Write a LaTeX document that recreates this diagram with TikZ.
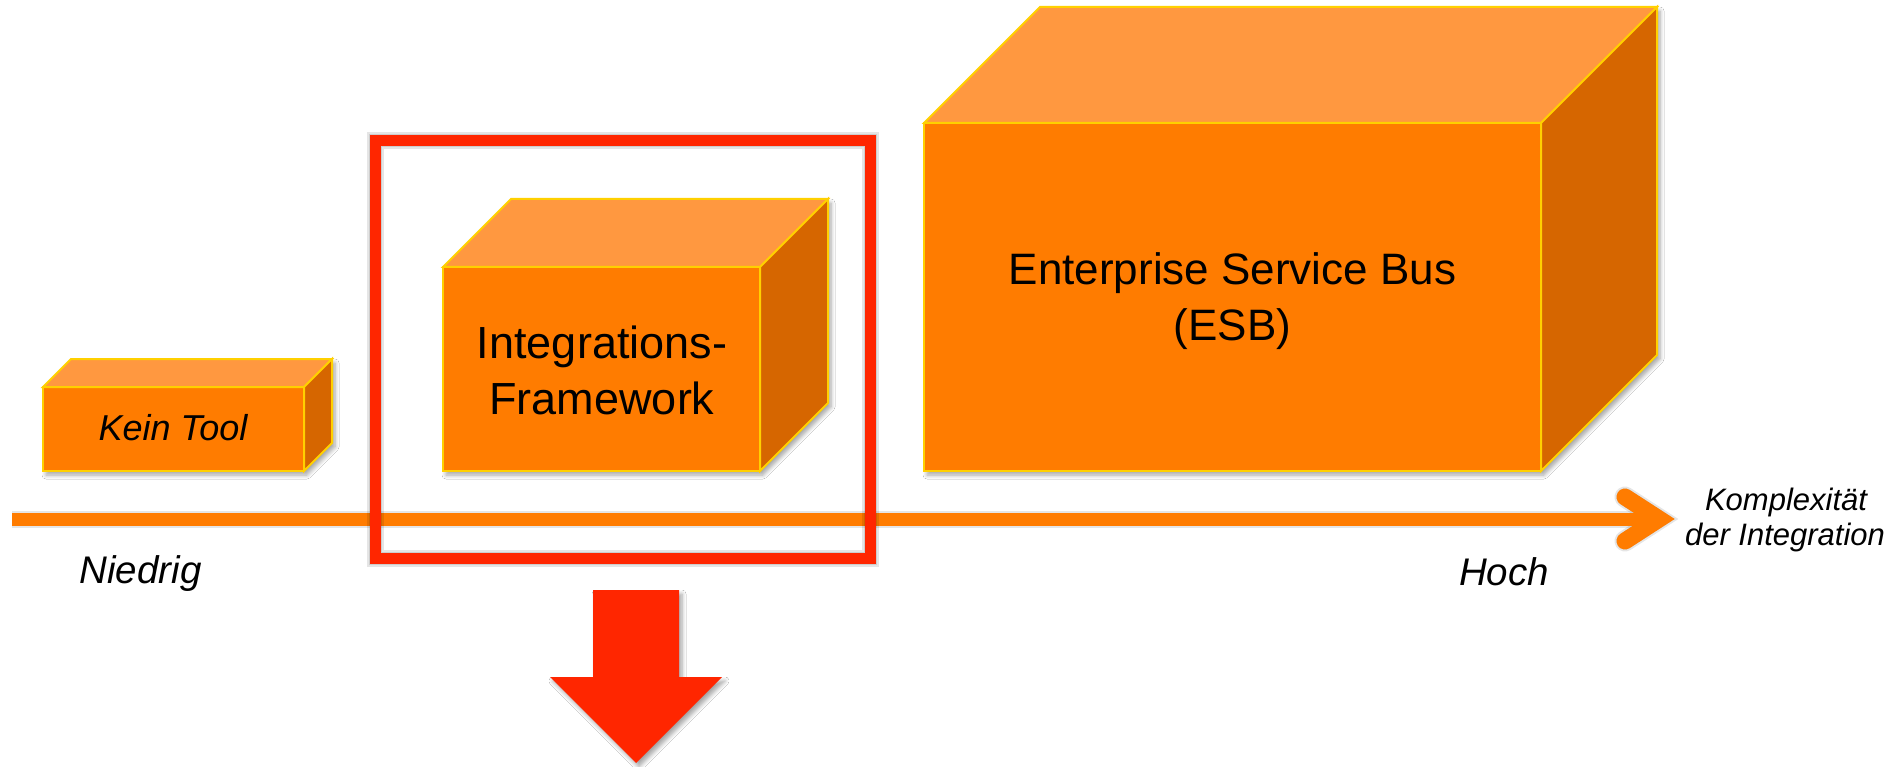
\documentclass[tikz,border=0pt]{standalone}
\usepackage{fontspec}
\setmainfont{Liberation Sans}
\usetikzlibrary{shadows.blur}
\definecolor{ofront}{RGB}{255,124,0}
\definecolor{otop}{RGB}{255,152,64}
\definecolor{oside}{RGB}{214,102,0}
\definecolor{gold}{RGB}{255,208,0}
\definecolor{hred}{RGB}{255,38,0}
\tikzset{
  face/.style={draw=gold, line width=2pt, line join=miter},
  frontface/.style={face, fill=ofront},
  topface/.style={face, fill=otop},
  sideface/.style={face, fill=oside},
  softshadow/.style={blur shadow={shadow xshift=3pt, shadow yshift=-4pt, shadow blur steps=6, shadow opacity=35, shadow blur radius=4pt}},
  lineshadow/.style={draw=black, opacity=0.10, line join=miter},
  axisline/.style={draw=ofront, line width=13pt},
  lbl/.style={inner sep=0pt, anchor=base, text=black},
}
\newcommand{\cuboidbox}[6]{%
  \path[softshadow, fill=white] (#1,#4) -- (#1,#2) -- ++(#5,#6) -- ++(#3-#1,0) -- ++(0,#4-#2) -- (#3,#4) -- cycle;
  \path[frontface] (#1,#2) rectangle (#3,#4);
  \path[topface] (#1,#2) -- ++(#5,#6) -- ++(#3-#1,0) -- (#3,#2) -- cycle;
  \path[sideface] (#3,#2) -- ++(#5,#6) -- ++(0,#4-#2) -- (#3,#4) -- cycle;
}
\begin{document}
\begin{tikzpicture}[x=1pt,y=-1pt]
\useasboundingbox (0,0) rectangle (1895,767);
\fill[white] (0,0) rectangle (1895,767);

% axis
\coordinate (axstart) at (12,519);
\coordinate (axend) at (1660,519);
\coordinate (armA) at (1625,497);
\coordinate (armV) at (1659,519);
\coordinate (armB) at (1625,541);
\begin{scope}[shift={(3,4)}]
  \path[lineshadow, line width=17pt] (axstart) -- (axend);
  \path[lineshadow, line width=13pt] (axstart) -- (axend);
  \path[lineshadow, line width=21pt, line cap=round, miter limit=10] (armA) -- (armV) -- (armB);
  \path[lineshadow, line width=17pt, line cap=round, miter limit=10] (armA) -- (armV) -- (armB);
\end{scope}
\path[draw=ofront, line width=17pt, line cap=round, line join=miter, miter limit=10] (armA) -- (armV) -- (armB);
\path[axisline] (axstart) -- (axend);

% boxes
\cuboidbox{43}{387}{304}{471}{28}{-28}
\cuboidbox{443}{267}{760}{471}{68}{-68}
\cuboidbox{924}{123}{1541}{471}{116}{-116}

% red frame
\coordinate (frA) at (375.5,140.5);
\coordinate (frB) at (870.5,558.5);
\begin{scope}[shift={(3,4)}]
  \path[lineshadow, line width=17pt] (frA) rectangle (frB);
  \path[lineshadow, line width=13pt] (frA) rectangle (frB);
  \path[lineshadow, line width=10pt] (frA) rectangle (frB);
\end{scope}
\path[draw=hred, line width=11pt, line join=miter] (frA) rectangle (frB);

% red arrow
\path[softshadow, fill=hred] (593,590) -- (679,590) -- (679,677) -- (722,677) -- (636,763) -- (550,677) -- (593,677) -- cycle;

% labels
\node[lbl, font=\fontsize{36}{42}\selectfont\itshape] (kein) at (173,440) {Kein Tool};
\node[lbl, font=\fontsize{45}{54}\selectfont] (int1) at (602,358) {Integrations-};
\node[lbl, font=\fontsize{45}{54}\selectfont] (int2) at (602,414) {Framework};
\node[lbl, font=\fontsize{44}{54}\selectfont] (esb1) at (1232.5,285) {Enterprise Service Bus};
\node[lbl, font=\fontsize{44}{54}\selectfont] (esb2) at (1232.5,340) {(ESB)};
\node[lbl, font=\fontsize{38.5}{46}\selectfont\itshape] (nied) at (140.5,583) {Niedrig};
\node[lbl, font=\fontsize{38.5}{46}\selectfont\itshape] (hoch) at (1504,585) {Hoch};
\node[lbl, font=\fontsize{31}{36}\selectfont\itshape] (kom1) at (1786,510) {Komplexität};
\node[lbl, font=\fontsize{31}{36}\selectfont\itshape] (kom2) at (1785,545) {der Integration};
\end{tikzpicture}
\end{document}
